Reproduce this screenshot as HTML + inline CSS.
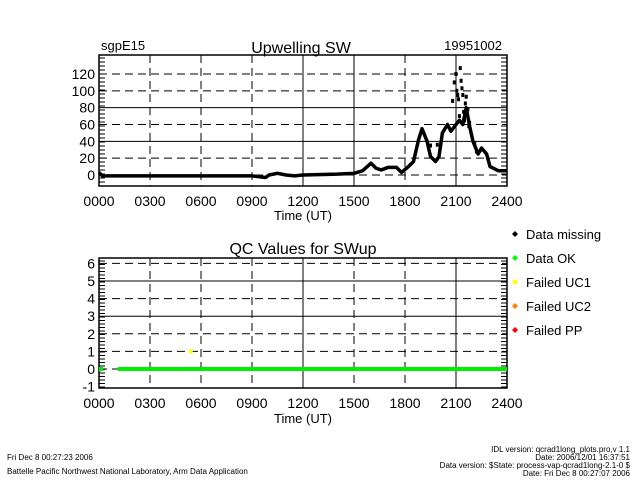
<!DOCTYPE html>
<html><head><meta charset="utf-8"><style>
body{margin:0;background:#fff;width:640px;height:480px;overflow:hidden;font-family:"Liberation Sans",sans-serif}
svg text{font-family:"Liberation Sans",sans-serif}
</style></head><body>
<svg id="c" width="640" height="480" xmlns="http://www.w3.org/2000/svg">
<text x="101" y="50" font-size="13">sgpE15</text>
<text x="301" y="53" font-size="16" text-anchor="middle">Upwelling SW</text>
<text x="502" y="50" font-size="13" text-anchor="end">19951002</text>
<text x="303" y="254" font-size="16" text-anchor="middle">QC Values for SWup</text>
<text x="303" y="220" font-size="13" text-anchor="middle">Time (UT)</text>
<text x="303" y="423" font-size="13" text-anchor="middle">Time (UT)</text>
<g font-size="8">
<text x="7" y="460">Fri Dec  8 00:27:23 2006</text>
<text x="7" y="474">Battelle Pacific Northwest National Laboratory, Arm Data Application</text>
<text x="630" y="452" text-anchor="end">IDL version: qcrad1long_plots.pro,v 1.1</text>
<text x="630" y="460" text-anchor="end">Date: 2006/12/01 16:37:51</text>
<text x="630" y="468" text-anchor="end">Data version: $State: process-vap-qcrad1long-2.1-0 $</text>
<text x="630" y="476" text-anchor="end">Date: Fri Dec  8 00:27:07 2006</text>
</g>
</svg>
<script>
const xTicks=["0000","0300","0600","0900","1200","1500","1800","2100","2400"];
const topYTicks=[0,20,40,60,80,100,120];
const qcYTicks=[-1,0,1,2,3,4,5,6];
const swHours=[0,0.2,1,3,6,9,9.8,10,10.5,11,11.5,12,14,15,15.5,16,16.3,16.6,17,17.5,17.8,18.2,18.5,18.8,19,19.3,19.5,19.8,20,20.2,20.5,20.7,21,21.2,21.4,21.6,21.8,22,22.3,22.5,22.8,23,23.5,24];
const swValues=[3,-1,-1,-1,-1,-1,-3,0,2,0,-1,0,1,2,5,14,8,6,9,9,3,10,16,42,55,40,22,16,22,50,60,52,60,65,60,80,58,40,25,32,25,10,5,5];
const spikeHours=[20.8,20.9,21.0,21.05,21.1,21.15,21.2,21.25,21.3,21.35,21.4,21.45,21.5,21.55,21.6,21.7,21.75,21.8,19.5,19.9,22.1,22.2];
const spikeValues=[88,110,120,100,95,90,70,127,112,103,95,75,65,85,93,78,58,62,35,36,38,28];
const qcHours=[5.4];
const qcValues=[1];
const legendLabels=["Data missing","Data OK","Failed UC1","Failed UC2","Failed PP"];
const legendColors=["#000","#00ff00","#ffff00","#ff8000","#ff0000"];

const svg=document.getElementById('c');
const NS="http://www.w3.org/2000/svg";
function mk(t,a){const e=document.createElementNS(NS,t);for(const k in a)e.setAttribute(k,a[k]);svg.appendChild(e);return e;}
const X0=99,X1=507;
const xs=h=>X0+(X1-X0)*h/24;
const ty=v=>175-v*(101/120);
const qy=v=>369-v*17.6;

function frame(top,bot,yT,yf,solidY,solidX,pre,minor){
  // grid
  for(let i=1;i<8;i++){
    const l=mk('line',{x1:xs(i*3),x2:xs(i*3),y1:top,y2:bot,stroke:'#000','stroke-width':1,'stroke-dasharray':solidX.includes(i)?'':'8,5'});
    
    
  }
  yT.forEach(v=>{
    const y=yf(v);
    if(y>top+2&&y<bot-2){
      const l=mk('line',{x1:X0,x2:X1,y1:y,y2:y,stroke:'#000','stroke-width':1,'stroke-dasharray':solidY.includes(v)?'':'8,5'});
      
      
    }
    const t=mk('text',{x:X0-4,y:y+5,'font-size':14,'text-anchor':'end'});t.textContent=v;
    
    
  });
  // minor ticks
  for(let y=top+3;y<bot;y+=minor){
    mk('line',{x1:X0,x2:X0+6,y1:y,y2:y,stroke:'#000','stroke-width':1});
    mk('line',{x1:X1-6,x2:X1,y1:y,y2:y,stroke:'#000','stroke-width':1});
  }
  const r=mk('rect',{x:X0,y:top,width:X1-X0,height:bot-top,fill:'none',stroke:'#000','stroke-width':1.5});
  
  
  xTicks.forEach((s,i)=>{
    const t=mk('text',{x:xs(i*3),y:bot+20,'font-size':14,'text-anchor':'middle'});t.textContent=s;
    
    
  });
}
frame(55,186,topYTicks,ty,[40,80],[4,5,7],'top',4);
frame(258,388,qcYTicks,qy,[3,5],[4,7],'qc',3.5);

// top series
const pts=swHours.map((h,i)=>xs(h)+','+ty(swValues[i])).join(' ');
const pl=mk('polyline',{points:pts,fill:'none',stroke:'#000','stroke-width':3.5,'stroke-linejoin':'round'});


spikeHours.forEach((h,i)=>{
  const r=mk('rect',{x:xs(h)-1.5,y:ty(spikeValues[i])-2,width:3,height:4,fill:'#000'});
  
  
});
// qc series
[[0,0.25],[1.1,24]].forEach(s=>{
  const l=mk('line',{x1:xs(s[0]),x2:xs(s[1]),y1:qy(0),y2:qy(0),stroke:'#00ee00','stroke-width':4});
  
  
});
qcHours.forEach((h,i)=>{
  const r=mk('rect',{x:xs(h)-2,y:qy(qcValues[i])-2,width:4,height:4,fill:'#ffff00'});
  
  
});
// legend
legendLabels.forEach((s,i)=>{
  const y=236+i*24;
  const d=mk('path',{d:`M${515},${y-5}l3,3l-3,3l-3,-3z`,fill:legendColors[i]});
  
  
  const t=mk('text',{x:526,y:y+3,'font-size':13});t.textContent=s;
  
  
});
</script>
</body></html>
